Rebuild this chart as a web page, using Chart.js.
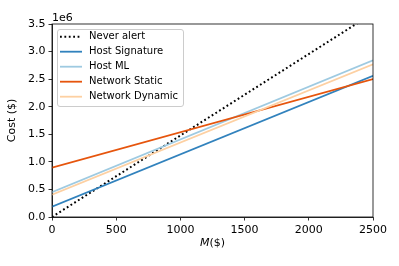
<!DOCTYPE html>
<html><head><meta charset="utf-8">
<script src="https://cdn.jsdelivr.net/npm/chart.js@4"></script>
<style>html,body{margin:0;padding:0;background:#fff}</style>
</head><body>
<canvas id="c" width="399" height="266"></canvas>
<script>
// values (cost in $, two end points per line)
const seriesNames = ['Never alert', 'Host Signature', 'Host ML', 'Network Static', 'Network Dynamic'];
const mValues = [0, 2500];
const neverAlert = [0, 3695000];
const hostSignature = [187000, 2560000];
const hostML = [450000, 2840000];
const networkStatic = [895000, 2500000];
const networkDynamic = [405000, 2770000];

const colors = ['#000000', '#3182bd', '#9ecae1', '#e6550d', '#fdd0a2'];
const FONT = 'DejaVu Sans';

const pts = ys => mValues.map((x, i) => ({x, y: ys[i]}));
const allSeries = [neverAlert, hostSignature, hostML, networkStatic, networkDynamic];

const datasets = allSeries.map((ys, i) => ({
  label: seriesNames[i],
  data: pts(ys),
  showLine: true,
  pointRadius: 0,
  borderColor: colors[i],
  borderWidth: i === 0 ? 2 : 1.8,
  borderDash: i === 0 ? [1.8, 2.6] : [],
  order: 5 - i
}));

const extras = {
  id: 'extras',
  afterDraw(chart) {
    const {ctx, chartArea: a} = chart;
    ctx.save();
    // frame
    ctx.strokeStyle = '#000';
    ctx.lineWidth = 0.8;
    ctx.strokeRect(a.left, a.top, a.right - a.left, a.bottom - a.top);

    ctx.fillStyle = '#000';
    ctx.font = `11px "${FONT}"`;
    ctx.textBaseline = 'alphabetic';
    ctx.textAlign = 'left';
    ctx.fillText('1e6', a.left, a.top - 3);

    // x title, M in italics
    ctx.textBaseline = 'middle';
    const it = `italic 11px "${FONT}"`, nf = `11px "${FONT}"`;
    ctx.font = it; const wM = ctx.measureText('M').width;
    ctx.font = nf; const wR = ctx.measureText('($)').width;
    const cx = (a.left + a.right) / 2, x0 = cx - (wM + wR) / 2;
    ctx.font = it; ctx.fillText('M', x0, 243);
    ctx.font = nf; ctx.fillText('($)', x0 + wM, 243);

    // y title
    ctx.save();
    ctx.translate(12, (a.top + a.bottom) / 2);
    ctx.rotate(-Math.PI / 2);
    ctx.textAlign = 'center';
    ctx.fillText('Cost ($)', 0, 0);
    ctx.restore();

    // legend inside the plot
    const lx = 57, ly = 29, lw = 126, lh = 77;
    ctx.beginPath();
    ctx.roundRect(lx + 0.5, ly + 0.5, lw, lh, 2.5);
    ctx.fillStyle = 'rgba(255,255,255,0.8)';
    ctx.fill();
    ctx.strokeStyle = '#cccccc';
    ctx.lineWidth = 1;
    ctx.stroke();
    const lf = `10px "${FONT}"`;
    datasets.forEach((d, i) => {
      const y = 36.7 + 15 * i;
      ctx.beginPath();
      ctx.strokeStyle = d.borderColor;
      ctx.lineWidth = d.borderWidth;
      ctx.setLineDash(d.borderDash);
      ctx.moveTo(60, y);
      ctx.lineTo(82, y);
      ctx.stroke();
      ctx.setLineDash([]);
      ctx.fillStyle = '#000';
      ctx.font = lf;
      ctx.textAlign = 'left';
      ctx.fillText(d.label, 89, y);
    });
    ctx.restore();
  }
};

const axisCommon = {
  type: 'linear',
  grid: {drawOnChartArea: false, drawTicks: true, tickLength: 3.5, color: '#000', lineWidth: 0.8},
  border: {display: true, color: '#000', width: 0.8},
  ticks: {color: '#000', font: {family: FONT, size: 11}, padding: 3}
};

new Chart(document.getElementById('c'), {
  type: 'scatter',
  data: {datasets},
  plugins: [extras],
  options: {
    responsive: false,
    animation: false,
    layout: {padding: {top: 24, right: 26, left: 0, bottom: 0}},
    plugins: {legend: {display: false}, tooltip: {enabled: false}},
    scales: {
      x: {...axisCommon, min: 0, max: 2500,
        ticks: {...axisCommon.ticks, stepSize: 500, maxRotation: 0, callback: v => String(v)},
        afterFit(s) { s.height = 49; }},
      y: {...axisCommon, min: 0, max: 3500000,
        ticks: {...axisCommon.ticks, stepSize: 500000, callback: v => (v / 1e6).toFixed(1)},
        afterFit(s) { s.width = 52; }}
    }
  }
});
</script>
</body></html>
